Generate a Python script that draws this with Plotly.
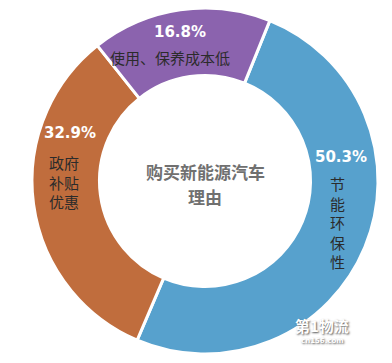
import plotly.graph_objects as go

categories = ["节能环保性", "政府补贴优惠", "使用、保养成本低"]
shares = [50.3, 32.9, 16.8]
colors = ["#57A1CD", "#C06D3D", "#8B63AE"]

W, H = 392, 363
OFF = 8  # page body margin shifts the figure on screen
cx, cy, R = 205 - OFF, 181 - OFF, 173

fig = go.Figure(go.Pie(
    labels=categories,
    values=shares,
    hole=0.61,
    sort=False,
    direction="clockwise",
    rotation=22,
    marker=dict(colors=colors, line=dict(color="white", width=3)),
    textinfo="none",
    hoverinfo="label+percent",
    showlegend=False,
    domain=dict(x=[max(0, (cx - R) / W), min(1, (cx + R) / W)],
                y=[max(0, (H - cy - R) / H), min(1, (H - cy + R) / H)]),
))

def px(x, y):
    return (x - OFF) / W, 1 - (y - OFF) / H

pct_font = dict(family="DejaVu Sans", size=15, color="white")
lab_font = dict(family="Noto Sans CJK SC", size=15, color="#2b2b2b")

ann = []
def add(text, x, y, font, **kw):
    ax, ay = px(x, y)
    ann.append(dict(text=text, x=ax, y=ay, xref="paper", yref="paper",
                    showarrow=False, font=font, xanchor="center", yanchor="middle", **kw))

add("<b>购买新能源汽车</b>", 205, 171,
    dict(family="Noto Sans CJK SC", size=17, color="#707070"))
add("<b>理由</b>", 205, 196,
    dict(family="Noto Sans CJK SC", size=17, color="#707070"))
add("<b>%.1f%%</b>" % shares[2], 180, 32, pct_font)
add(categories[2], 170, 57, lab_font)
add("<b>%.1f%%</b>" % shares[1], 70, 133, pct_font)
add("政府<br>补贴<br>优惠", 64, 182, lab_font)
add("<b>%.1f%%</b>" % shares[0], 341, 157, pct_font)
add("<br>".join(list(categories[0])), 337, 222, lab_font)
add("<b>第1物流</b>", 322, 325,
    dict(family="Noto Sans CJK SC", size=15, color="white", shadow="1px 1px 2px #555"))
add("<b>cn156.com</b>", 322, 341,
    dict(family="DejaVu Sans", size=7, color="white", shadow="1px 1px 2px #555"))

fig.update_layout(
    width=W, height=H,
    margin=dict(l=0, r=0, t=0, b=0),
    paper_bgcolor="white",
    plot_bgcolor="white",
    annotations=ann,
)

fig.write_html("out.html")
